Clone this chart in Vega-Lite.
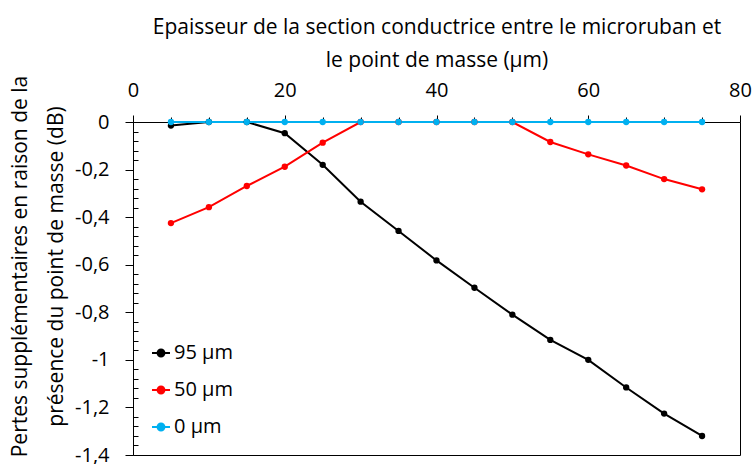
{
  "$schema": "https://vega.github.io/schema/vega-lite/v6.json",
  "width": 607,
  "height": 333,
  "autosize": "none",
  "padding": {"left": 133, "top": 122, "right": 14, "bottom": 9},
  "config": {
    "font": "Open Sans",
    "view": {"stroke": "#000000", "strokeWidth": 1},
    "axis": {"grid": false, "domainColor": "#000000", "tickColor": "#000000", "labelColor": "#000000", "titleColor": "#000000", "labelFont": "Open Sans", "titleFont": "Open Sans", "titleFontWeight": "normal"}
  },
  "data": {
    "values": [
      {"x": 5, "y": -0.015, "s": "95 µm"},
      {"x": 10, "y": 0, "s": "95 µm"},
      {"x": 15, "y": 0, "s": "95 µm"},
      {"x": 20, "y": -0.047, "s": "95 µm"},
      {"x": 25, "y": -0.18, "s": "95 µm"},
      {"x": 30, "y": -0.335, "s": "95 µm"},
      {"x": 35, "y": -0.458, "s": "95 µm"},
      {"x": 40, "y": -0.582, "s": "95 µm"},
      {"x": 45, "y": -0.697, "s": "95 µm"},
      {"x": 50, "y": -0.81, "s": "95 µm"},
      {"x": 55, "y": -0.916, "s": "95 µm"},
      {"x": 60, "y": -1.0, "s": "95 µm"},
      {"x": 65, "y": -1.116, "s": "95 µm"},
      {"x": 70, "y": -1.226, "s": "95 µm"},
      {"x": 75, "y": -1.32, "s": "95 µm"},
      {"x": 5, "y": -0.425, "s": "50 µm"},
      {"x": 10, "y": -0.358, "s": "50 µm"},
      {"x": 15, "y": -0.269, "s": "50 µm"},
      {"x": 20, "y": -0.188, "s": "50 µm"},
      {"x": 25, "y": -0.087, "s": "50 µm"},
      {"x": 30, "y": 0, "s": "50 µm"},
      {"x": 35, "y": 0, "s": "50 µm"},
      {"x": 40, "y": 0, "s": "50 µm"},
      {"x": 45, "y": 0, "s": "50 µm"},
      {"x": 50, "y": 0, "s": "50 µm"},
      {"x": 55, "y": -0.084, "s": "50 µm"},
      {"x": 60, "y": -0.136, "s": "50 µm"},
      {"x": 65, "y": -0.183, "s": "50 µm"},
      {"x": 70, "y": -0.24, "s": "50 µm"},
      {"x": 75, "y": -0.283, "s": "50 µm"},
      {"x": 5, "y": 0, "s": "0 µm"},
      {"x": 10, "y": 0, "s": "0 µm"},
      {"x": 15, "y": 0, "s": "0 µm"},
      {"x": 20, "y": 0, "s": "0 µm"},
      {"x": 25, "y": 0, "s": "0 µm"},
      {"x": 30, "y": 0, "s": "0 µm"},
      {"x": 35, "y": 0, "s": "0 µm"},
      {"x": 40, "y": 0, "s": "0 µm"},
      {"x": 45, "y": 0, "s": "0 µm"},
      {"x": 50, "y": 0, "s": "0 µm"},
      {"x": 55, "y": 0, "s": "0 µm"},
      {"x": 60, "y": 0, "s": "0 µm"},
      {"x": 65, "y": 0, "s": "0 µm"},
      {"x": 70, "y": 0, "s": "0 µm"},
      {"x": 75, "y": 0, "s": "0 µm"}
    ]
  },
  "mark": {"type": "line", "strokeWidth": 2, "point": {"filled": true, "size": 40, "opacity": 1}},
  "encoding": {
    "x": {
      "field": "x", "type": "quantitative",
      "scale": {"domain": [0, 80], "nice": false, "zero": false},
      "axis": {
        "orient": "top",
        "values": [0, 5, 10, 15, 20, 25, 30, 35, 40, 45, 50, 55, 60, 65, 70, 75, 80],
        "labelExpr": "datum.value % 20 == 0 ? datum.label : ''",
        "tickSize": {"condition": {"test": "datum.value % 20 == 0", "value": 7}, "value": 5},
        "labelPadding": 15,
        "labelFontSize": 20,
        "labelFlush": false,
        "title": ["Epaisseur de la section conductrice entre le microruban et", "le point de masse (µm)"],
        "titleFontSize": 21,
        "titlePadding": 10,
        "titleLineHeight": 33
      }
    },
    "y": {
      "field": "y", "type": "quantitative",
      "scale": {"domain": [-1.4, 0], "nice": false, "zero": false},
      "axis": {
        "values": [0, -0.04, -0.08, -0.12, -0.16, -0.2, -0.24, -0.28, -0.32, -0.36, -0.4, -0.44, -0.48, -0.52, -0.56, -0.6, -0.64, -0.68, -0.72, -0.76, -0.8, -0.84, -0.88, -0.92, -0.96, -1, -1.04, -1.08, -1.12, -1.16, -1.2, -1.24, -1.28, -1.32, -1.36, -1.4],
        "labelExpr": "abs(datum.value * 5 - round(datum.value * 5)) < 0.001 ? replace(toString(datum.value), '.', ',') : ''",
        "tickSize": {"condition": {"test": "abs(datum.value * 5 - round(datum.value * 5)) < 0.001", "value": 8}, "value": -5},
        "labelPadding": 16,
        "labelFontSize": 20,
        "labelFlush": false,
        "title": ["Pertes supplémentaires en raison de la", "présence du point de masse (dB)"],
        "titleFontSize": 21,
        "titlePadding": 8,
        "titleLineHeight": 36,
        "titleY": 144
      }
    },
    "color": {
      "field": "s", "type": "nominal",
      "sort": ["95 µm", "50 µm", "0 µm"],
      "scale": {"domain": ["95 µm", "50 µm", "0 µm"], "range": ["#000000", "#FF0000", "#00B0F0"]},
      "legend": {
        "title": null,
        "orient": "none",
        "legendX": 18,
        "legendY": 221,
        "symbolType": "M-1,0H1M-0.38,0A0.38,0.38 0 1,1 0.38,0A0.38,0.38 0 1,1 -0.38,0Z",
        "symbolSize": 324,
        "symbolStrokeWidth": 2,
        "labelFontSize": 20,
        "labelColor": "#000000",
        "labelOffset": 3,
        "rowPadding": 17
      }
    }
  }
}
